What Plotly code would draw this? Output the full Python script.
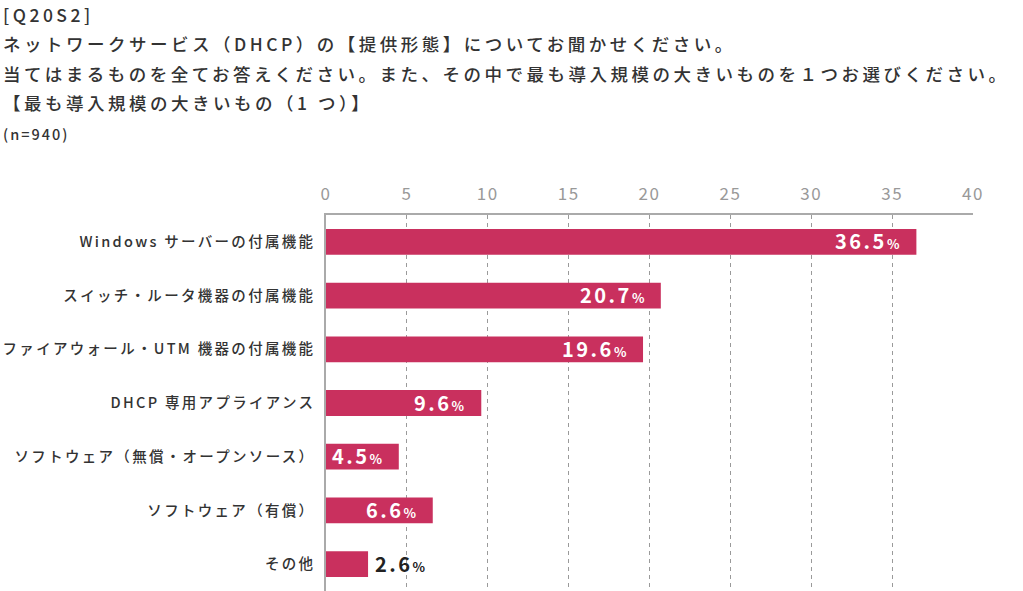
import plotly.graph_objects as go

categories = [
    "Windows サーバーの付属機能",
    "スイッチ・ルータ機器の付属機能",
    "ファイアウォール・UTM 機器の付属機能",
    "DHCP 専用アプライアンス",
    "ソフトウェア（無償・オープンソース）",
    "ソフトウェア（有償）",
    "その他",
]
values = [36.5, 20.7, 19.6, 9.6, 4.5, 6.6, 2.6]
tick_vals = [0, 5, 10, 15, 20, 25, 30, 35, 40]

title_lines = [
    "[Q20S2]",
    "ネットワークサービス（DHCP）の【提供形態】についてお聞かせください。",
    "当てはまるものを全てお答えください。また、その中で最も導入規模の大きいものを１つお選びください。",
    "【最も導入規模の大きいもの（1 つ）】",
]
sample_note = "(n=940)"

FONT = "Noto Sans CJK JP"
BAR_COLOR = "#C9305E"
TEXT_COLOR = "#333333"
GRID_COLOR = "#9a9a9a"

W, H = 1023, 591
L, R, T, B = 326, 50, 215, 0
PW, PH = W - L - R, H - T - B


def px_x(px):
    return (px - L) / PW


def px_y(py):
    return 1 + (T - py) / PH


fig = go.Figure()
fig.add_trace(go.Bar(
    x=values,
    y=categories,
    orientation="h",
    marker=dict(color=BAR_COLOR, line=dict(width=0)),
    hoverinfo="skip",
))

annotations = []
# value labels
for cat, v in zip(categories, values):
    num = f"{v:.1f}"
    txt = (f"<span style='letter-spacing:2.5px'>{num}</span>"
           f"<span style='font-size:13px'>%</span>")
    if v >= 4:
        annotations.append(dict(
            x=v, y=cat, xref="x", yref="y", text=txt, showarrow=False,
            xanchor="right", yanchor="middle", xshift=-14, yshift=1,
            font=dict(family=FONT, size=20, color="white", weight=700),
        ))
    else:
        annotations.append(dict(
            x=v, y=cat, xref="x", yref="y", text=txt, showarrow=False,
            xanchor="left", yanchor="middle", xshift=5, yshift=1,
            font=dict(family=FONT, size=20, color="#222222", weight=700),
        ))

# title lines
title_y = [14, 43, 73, 102]
for line, py in zip(title_lines, title_y):
    annotations.append(dict(
        x=px_x(1), y=px_y(py), xref="paper", yref="paper",
        text=f"<span style='letter-spacing:3.5px'>{line}</span>",
        showarrow=False, xanchor="left", yanchor="middle",
        font=dict(family=FONT, size=17.5, color=TEXT_COLOR, weight=500),
    ))
annotations.append(dict(
    x=px_x(1), y=px_y(133), xref="paper", yref="paper",
    text=f"<span style='letter-spacing:2px'>{sample_note}</span>",
    showarrow=False, xanchor="left", yanchor="middle",
    font=dict(family=FONT, size=14.5, color=TEXT_COLOR, weight=500),
))

fig.update_layout(
    width=W, height=H,
    margin=dict(l=L, r=R, t=T, b=B, pad=0, autoexpand=False),
    paper_bgcolor="white", plot_bgcolor="white",
    showlegend=False,
    bargap=0.52,
    annotations=annotations,
    xaxis=dict(
        side="top", range=[0, 40], tickvals=tick_vals,
        ticktext=[f"<span style='letter-spacing:1.5px'>{t}</span>" for t in tick_vals],
        showgrid=True, gridcolor=GRID_COLOR, griddash="4px,4px", gridwidth=1,
        zeroline=False, showline=True, linecolor="#aaaaaa", linewidth=1.5,
        ticks="outside", ticklen=6, tickcolor="rgba(0,0,0,0)",
        tickfont=dict(family=FONT, size=17, color="#999999"),
        automargin=False, fixedrange=True,
    ),
    yaxis=dict(
        categoryorder="array", categoryarray=categories,
        tickvals=categories,
        ticktext=[f"<span style='letter-spacing:2.3px'>{c}</span>" for c in categories],
        autorange="reversed",
        showgrid=False, zeroline=False, showline=True,
        linecolor="#aaaaaa", linewidth=1.5,
        ticks="outside", ticklen=6, tickcolor="rgba(0,0,0,0)",
        tickfont=dict(family=FONT, size=14.5, color=TEXT_COLOR, weight=500),
        automargin=False, fixedrange=True,
    ),
)

fig.write_html(
    "out.html",
    config={"displayModeBar": False},
    post_script="document.body.style.margin='0';",
)
